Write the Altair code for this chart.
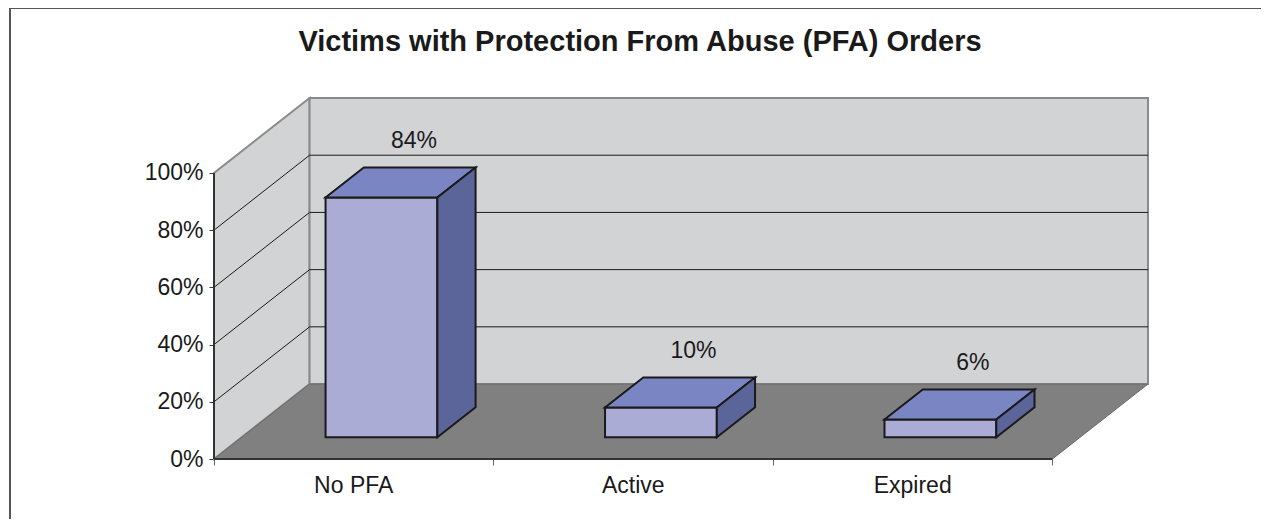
import altair as alt
import pandas as pd

# ---- data ----
TITLE = "Victims with Protection From Abuse (PFA) Orders"
categories = ["No PFA", "Active", "Expired"]
values = [0.838, 0.104, 0.062]
y_ticks = [0, 0.2, 0.4, 0.6, 0.8, 1.0]
grid_levels = [0.2, 0.4, 0.6, 0.8]

# ---- 3D layout parameters (in scale units) ----
N = len(categories)
DX = 0.342      # depth shift in category units
DY = 0.262      # depth shift in value units
FD, BD = 0.29, 0.69   # bar front / back depth fraction
BW = 0.40       # bar width in category units
FONT = "Liberation Sans"

WALL = "#d2d3d5"
WALL_EDGE = "#8a8a8a"
FLOOR = "#808080"
FRONT = "#aaacd6"
TOP = "#7a85c4"
SIDE = "#5b6599"

XS = alt.Scale(domain=[0, N + DX], nice=False, zero=False)
YS = alt.Scale(domain=[0, 1 + DY], nice=False, zero=False)
AX = alt.Axis(values=list(range(N + 1)), labels=False, domain=False, grid=False,
              tickSize=6, tickColor="#666666", tickWidth=1, title=None)
AY = alt.Axis(values=y_ticks, format=".0%", domain=False, grid=False, tickSize=5,
              tickColor="#333333", labelFont=FONT, labelFontSize=23,
              labelColor="#1a1a1a", labelPadding=6, title=None)


def X(f):
    return alt.X(f, type="quantitative", scale=XS, axis=AX)


def Y(f):
    return alt.Y(f, type="quantitative", scale=YS, axis=AY)


# side wall (vertical parallelogram)
side_df = pd.DataFrame({"x": [0, DX], "y": [0, DY], "y2": [1, 1 + DY]})
side_wall = alt.Chart(side_df).mark_area(
    orient="vertical", fill=WALL, stroke=WALL_EDGE, strokeWidth=2
).encode(x=X("x"), y=Y("y"), y2="y2")

# back wall
back_df = pd.DataFrame({"x": [DX], "x2": [N + DX], "y": [DY], "y2": [1 + DY]})
back_wall = alt.Chart(back_df).mark_rect(
    fill=WALL, stroke=WALL_EDGE, strokeWidth=2
).encode(x=X("x"), x2="x2", y=Y("y"), y2="y2")

# gridlines
grid_rows = []
for v in grid_levels:
    grid_rows.append({"x": DX, "x2": N + DX, "y": v + DY, "y2": v + DY})
    grid_rows.append({"x": 0, "x2": DX, "y": v, "y2": v + DY})
grid = alt.Chart(pd.DataFrame(grid_rows)).mark_rule(
    color="#1a1a1a", strokeWidth=1
).encode(x=X("x"), x2="x2", y=Y("y"), y2="y2")

# floor (horizontal parallelogram)
floor_df = pd.DataFrame({"y": [0, DY], "x": [0, DX], "x2": [N, N + DX]})
floor = alt.Chart(floor_df).mark_area(
    orient="horizontal", fill=FLOOR, stroke="#6a6a6a", strokeWidth=1
).encode(y=Y("y"), x=X("x"), x2="x2")

# bars
front_rows, top_rows, side_rows = [], [], []
for i, (c, v) in enumerate(zip(categories, values)):
    L = i + 0.5 - BW / 2
    R = i + 0.5 + BW / 2
    front_rows.append({"bar": c, "x": L + FD * DX, "x2": R + FD * DX,
                       "y": FD * DY, "y2": FD * DY + v})
    top_rows.append({"bar": c, "y": FD * DY + v, "x": L + FD * DX, "x2": R + FD * DX})
    top_rows.append({"bar": c, "y": BD * DY + v, "x": L + BD * DX, "x2": R + BD * DX})
    side_rows.append({"bar": c, "x": R + FD * DX, "y": FD * DY, "y2": FD * DY + v})
    side_rows.append({"bar": c, "x": R + BD * DX, "y": BD * DY, "y2": BD * DY + v})

bar_front = alt.Chart(pd.DataFrame(front_rows)).mark_rect(
    fill=FRONT, stroke="#1a1a1a", strokeWidth=2
).encode(x=X("x"), x2="x2", y=Y("y"), y2="y2")

bar_top = alt.Chart(pd.DataFrame(top_rows)).mark_area(
    orient="horizontal", fill=TOP, stroke="#1a1a1a", strokeWidth=2
).encode(y=Y("y"), x=X("x"), x2="x2", detail="bar:N")

bar_side = alt.Chart(pd.DataFrame(side_rows)).mark_area(
    orient="vertical", fill=SIDE, stroke="#1a1a1a", strokeWidth=2
).encode(x=X("x"), y=Y("y"), y2="y2", detail="bar:N")

# axis lines (front edges)
edge_df = pd.DataFrame([{"x": 0, "x2": N, "y": 0, "y2": 0},
                        {"x": 0, "x2": 0, "y": 0, "y2": 1}])
edges = alt.Chart(edge_df).mark_rule(color="#333333", strokeWidth=2).encode(
    x=X("x"), x2="x2", y=Y("y"), y2="y2")

# data labels
lab_df = pd.DataFrame({"x": [i + 0.5 + 0.63 * DX for i in range(N)],
                       "y": [v + 0.275 for v in values],
                       "v": values})
data_labels = alt.Chart(lab_df).mark_text(
    font=FONT, fontSize=23, color="#1a1a1a", baseline="middle", align="center"
).encode(x=X("x"), y=Y("y"), text=alt.Text("v:Q", format=".0%"))

# category labels
cat_df = pd.DataFrame({"x": [i + 0.5 for i in range(N)], "y": [0] * N, "cat": categories})
cat_labels = alt.Chart(cat_df).mark_text(
    font=FONT, fontSize=23, color="#1a1a1a", baseline="alphabetic", align="center", dy=34
).encode(x=X("x"), y=Y("y"), text="cat:N")

# title
one = pd.DataFrame({"t": [TITLE]})
title = alt.Chart(one).mark_text(
    font=FONT, fontSize=29, fontWeight="bold", color="#1a1a1a",
    align="center", baseline="alphabetic"
).encode(x=alt.value(426), y=alt.value(-47), text="t:N")

# outer frame (left and top edges)
frame_left = alt.Chart(one).mark_rule(color="#555555", strokeWidth=2).encode(
    x=alt.value(-204), x2=alt.value(-204), y=alt.value(-90), y2=alt.value(421))
frame_top = alt.Chart(one).mark_rule(color="#555555", strokeWidth=2).encode(
    x=alt.value(-204), x2=alt.value(1047), y=alt.value(-90), y2=alt.value(-90))

chart = alt.layer(
    side_wall, back_wall, grid, floor, edges,
    bar_front, bar_top, bar_side,
    data_labels, cat_labels, title, frame_left, frame_top
).properties(
    width=934, height=361,
    padding={"left": 206, "top": 90, "right": 113, "bottom": 60},
    autosize=alt.AutoSizeParams(type="none"),
    background="white",
).configure_view(stroke=None)

chart.save("out.html", embed_options={"renderer": "svg", "actions": False})
